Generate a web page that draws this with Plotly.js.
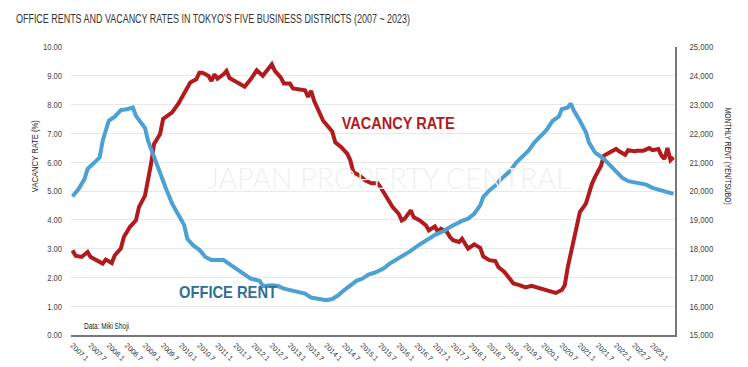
<!DOCTYPE html>
<html>
<head>
<meta charset="utf-8">
<script src="https://cdn.plot.ly/plotly-3.0.1.min.js"></script>
<style>html,body{margin:0;padding:0;background:#fff;}#chart{width:748px;height:367px;}</style>
</head>
<body>
<div id="chart"></div>
<script>
// Month offsets from 2007.1 (0 = Jan 2007)
const rentMonths = [0,2,4,5,7,9,10,12,14,16,18,20,21,24,25,27,29,31,33,35,37,38,40,42,44,46,48,50,52,55,57,59,62,63,66,68,70,72,75,77,79,82,84,86,88,90,92,94,96,98,100,103,105,107,109,112,114,116,118,120,123,125,127,129,131,133,135,136,138,140,142,145,147,149,151,153,155,157,159,161,162,164,165,166,168,170,171,173,176,178,180,182,184,187,190,192,195,197,199];
// Office rent, yen per tsubo (right axis)
const rentValues = [19810,20070,20420,20770,20960,21170,21750,22440,22580,22810,22840,22900,22610,22190,21750,21170,20650,20070,19560,19210,18810,18340,18110,17960,17710,17600,17600,17600,17460,17250,17080,16960,16880,16700,16730,16700,16610,16560,16500,16440,16300,16230,16210,16250,16380,16560,16730,16880,16960,17100,17160,17310,17480,17600,17710,17920,18080,18230,18340,18480,18610,18750,18860,18960,19040,19210,19500,19790,20020,20190,20420,20710,21000,21200,21400,21690,21890,22120,22440,22580,22840,22900,23040,22790,22440,22040,21690,21340,21110,20880,20690,20460,20340,20270,20220,20110,20020,19990,19900];

const vacMonths = [0,1,3,5,6,8,10,11,13,14,16,17,19,21,22,24,25,26,27,29,30,31,33,35,36,38,39,41,42,43,45,46,47,48,50,51,52,54,57,59,61,63,65,66,67,69,70,72,73,76,77,78,79,80,82,83,86,87,89,91,92,93,95,97,99,101,102,104,106,108,109,110,112,113,115,117,118,120,121,122,124,125,126,128,129,130,131,133,135,136,138,140,141,143,145,146,148,149,150,152,154,156,159,160,162,163,164,165,166,167,168,170,171,172,173,175,176,178,180,181,183,184,186,187,189,191,192,194,195,196,197,198,199];
// Vacancy rate, % (left axis)
const vacValues = [2.94,2.75,2.71,2.88,2.71,2.60,2.48,2.62,2.50,2.77,3.00,3.40,3.75,3.98,4.44,4.84,5.36,5.94,6.63,6.98,7.50,7.58,7.73,8.02,8.22,8.59,8.77,8.88,9.11,9.11,9.00,8.82,9.05,8.90,9.05,9.17,8.92,8.80,8.62,8.88,9.19,9.00,9.28,9.40,9.17,8.94,8.73,8.73,8.56,8.54,8.50,8.27,8.48,8.13,7.61,7.44,7.07,6.69,6.52,6.29,6.06,5.65,5.54,5.36,5.27,5.27,5.13,4.79,4.44,4.21,3.98,4.04,4.33,4.09,3.98,3.81,3.63,3.77,3.58,3.69,3.58,3.40,3.29,3.23,3.34,3.17,3.00,3.15,3.03,2.73,2.60,2.57,2.36,2.19,1.93,1.79,1.73,1.70,1.65,1.71,1.65,1.56,1.50,1.46,1.56,1.73,2.36,2.83,3.34,3.75,4.27,4.56,4.96,5.25,5.48,5.88,6.23,6.34,6.46,6.38,6.26,6.42,6.38,6.40,6.40,6.49,6.42,6.46,6.23,6.11,6.49,6.07,6.17];

const tickLabels = ["2007.1","2007.7","2008.1","2008.7","2009.1","2009.7","2010.1","2010.7","2011.1","2011.7","2012.1","2012.7","2013.1","2013.7","2014.1","2014.7","2015.1","2015.7","2016.1","2016.7","2017.1","2017.7","2018.1","2018.7","2019.1","2019.7","2020.1","2020.7","2021.1","2021.7","2022.1","2022.7","2023.1"];
const tickMonths = tickLabels.map((t, i) => i * 6);

const sans = '"Liberation Sans", Arial, sans-serif';

const L = 71, R = 73, T = 47, B = 32, W = 748, H = 367;
const pw = W - L - R, ph = H - T - B;
const px = x => (x - L) / pw;
const py = y => (H - B - y) / ph;

const traces = [
  {x: rentMonths, y: rentValues, yaxis: 'y2', type: 'scatter', mode: 'lines',
   line: {color: '#4ba1d3', width: 4}, hoverinfo: 'skip'},
  {x: vacMonths, y: vacValues, yaxis: 'y', type: 'scatter', mode: 'lines',
   line: {color: '#b11b1d', width: 4}, hoverinfo: 'skip'}
];

const ann = (text, x, y, font, extra) => Object.assign({
  text, xref: 'paper', yref: 'paper', x: px(x), y: py(y),
  xanchor: 'center', yanchor: 'middle', showarrow: false, font
}, extra || {});

const layout = {
  width: W, height: H,
  margin: {l: L, r: R, t: T, b: B, pad: 0},
  paper_bgcolor: '#ffffff', plot_bgcolor: '#ffffff',
  showlegend: false,
  title: {text: "OFFICE RENTS AND VACANCY RATES IN TOKYO’S FIVE BUSINESS DISTRICTS (2007 ~ 2023)",
    xref: 'container', yref: 'container', x: 16 / W, xanchor: 'left', y: 1 - 19 / H, yanchor: 'middle',
    font: {family: sans, size: 12.5, color: '#333333'}},
  xaxis: {range: [-0.5, 199.5], tickmode: 'array', tickvals: tickMonths, ticktext: tickLabels,
    tickangle: 45, tickfont: {family: sans, size: 7.2, color: '#333333'},
    showgrid: false, zeroline: false, showline: true, linecolor: '#777777', linewidth: 1.5,
    ticks: '', ticklabelstandoff: 2, fixedrange: true},
  yaxis: {range: [0, 10], dtick: 1, tick0: 0, tickformat: '.2f',
    tickfont: {family: sans, size: 9.5, color: '#444444'},
    showgrid: true, gridcolor: '#e8e8e8', gridwidth: 1, zeroline: false, showline: false,
    ticks: '', ticklabelstandoff: 8, fixedrange: true},
  yaxis2: {range: [15000, 25000], dtick: 1000, tick0: 15000, tickformat: ',d', overlaying: 'y', side: 'right',
    tickfont: {family: sans, size: 9.5, color: '#444444'},
    showgrid: false, zeroline: false, showline: true, linecolor: '#777777', linewidth: 1.5,
    ticks: '', ticklabelstandoff: 11, fixedrange: true},
  annotations: [
    ann('JAPAN PROPERTY CENTRAL', 388, 178, {family: 'Lato, "Open Sans", sans-serif', size: 28.5, color: '#f0f0f0', weight: 300}),
    ann('VACANCY RATE (%)', 34, 156, {family: sans, size: 9.5, color: '#222222'}, {textangle: -90}),
    ann('MONTHLY RENT (YEN/TSUBO)', 728, 156, {family: sans, size: 9, color: '#222222'}, {textangle: 90}),
    ann('VACANCY RATE', 398, 123, {family: sans, size: 16.5, color: '#b11b1d', weight: 'bold'}),
    ann('OFFICE RENT', 228, 292, {family: sans, size: 16.5, color: '#2f6f96', weight: 'bold'}),
    ann('Data: Miki Shoji', 75, 326, {family: sans, size: 8.5, color: '#222222'}, {xanchor: 'left'})
  ]
};

// Condensed look: squeeze glyphs horizontally (the reference uses a condensed typeface)
function squeeze(el, target) {
  el.setAttribute('textLength', target);
  el.setAttribute('lengthAdjust', 'spacingAndGlyphs');
}
function squeezeBy(sel, f) {
  document.querySelectorAll(sel).forEach(el => squeeze(el, el.getComputedTextLength() * f));
}

Plotly.newPlot('chart', traces, layout, {displayModeBar: false, staticPlot: true}).then(() => {
  const t = document.querySelector('.gtitle');
  if (t) squeeze(t, 394);
  const annEls = document.querySelectorAll('.annotation-text');
  const widths = [null, 72, 97, 113, 98, 45];
  annEls.forEach((el, i) => { if (widths[i]) squeeze(el, widths[i]); });
  squeezeBy('.ytick text', 0.8);
  squeezeBy('.y2tick text', 0.82);
});
</script>
</body>
</html>
